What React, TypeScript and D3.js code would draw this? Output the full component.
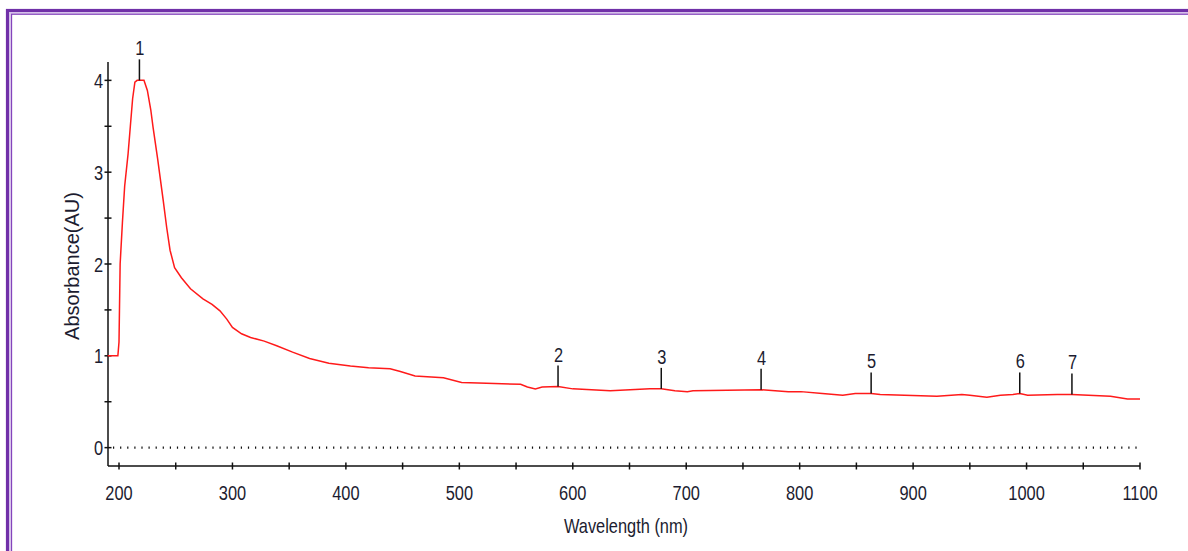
import React from 'react'
import * as d3 from 'd3'

const width = 1188
const height = 551

// spectrum: wavelength (nm) / absorbance (AU)
const wavelengths = [
  190, 199, 200, 201, 203, 205, 208, 210, 212, 214, 216, 222, 225, 228, 230, 234, 239, 242, 245, 249,
  255, 263, 274, 282, 289, 295, 300, 308, 316, 328, 339, 353, 368, 385, 404, 420, 439, 448, 461, 486,
  502, 524, 554, 560, 567, 573, 587, 600, 633, 668, 678, 690, 701, 706, 766, 790, 801, 820, 838, 849,
  863, 871, 921, 943, 950, 965, 977, 988, 994, 1001, 1027, 1040, 1074, 1089, 1100
]
const absorbance = [
  1.0, 1.0, 1.15, 2.0, 2.45, 2.85, 3.2, 3.5, 3.8, 3.98, 4.0, 4.0, 3.89, 3.68, 3.49, 3.15, 2.69, 2.4, 2.15, 1.96,
  1.85, 1.73, 1.62, 1.56, 1.49, 1.4, 1.31, 1.24, 1.2, 1.16, 1.11, 1.04, 0.97, 0.92, 0.89, 0.87, 0.86, 0.83, 0.78, 0.76,
  0.71, 0.7, 0.69, 0.66, 0.64, 0.66, 0.665, 0.64, 0.62, 0.64, 0.64, 0.62, 0.61, 0.62, 0.63, 0.61, 0.61, 0.59, 0.57, 0.59,
  0.59, 0.58, 0.56, 0.58, 0.57, 0.55, 0.57, 0.58, 0.59, 0.57, 0.58, 0.58, 0.56, 0.53, 0.53
]

const peakLabels = ['1', '2', '3', '4', '5', '6', '7']
const peakWl = [218, 587, 678, 766, 863, 994, 1040]
const peakAbs = [4.0, 0.665, 0.64, 0.63, 0.59, 0.59, 0.58]

const xTicks = [200, 300, 400, 500, 600, 700, 800, 900, 1000, 1100]
const xMinor = [250, 350, 450, 550, 650, 750, 850, 950, 1050]
const yTicks = [0, 1, 2, 3, 4]
const yMinor = [0.5, 1.5, 2.5, 3.5]

const font = 'Liberation Sans, Arial, sans-serif'
const textColor = '#1c1c30'
const squeeze = 0.8

function Label({ x, y, anchor = 'middle', children }: any) {
  return (
    <g transform={`translate(${x},${y}) scale(${squeeze},1)`}>
      <text textAnchor={anchor} fontFamily={font} fontSize={20.5} fill={textColor}>{children}</text>
    </g>
  )
}

function App() {
  const xScale = d3.scaleLinear().domain([190.3, 1100]).range([108, 1140])
  const yScale = d3.scaleLinear().domain([-0.2, 4.2]).range([466, 62])

  const points = wavelengths.map((w, i) => [w, absorbance[i]] as [number, number])
  const line = d3.line<[number, number]>()
    .x(d => xScale(d[0]))
    .y(d => yScale(d[1]))

  const x0 = xScale.range()[0]
  const x1 = xScale.range()[1]
  const yBottom = yScale.range()[0]
  const yTop = yScale.range()[1]

  return (
    <svg width={width} height={height} style={{ position: 'absolute', left: 0, top: 0, display: 'block' }}>
      <rect width={width} height={height} fill="#fff" />
      {/* purple frame */}
      <rect x={7.5} y={10.5} width={1300} height={700} fill="none" stroke="#7030a8" strokeWidth={3.2} />
      <rect x={9.8} y={12.8} width={1300} height={700} fill="none" stroke="#d2bce8" strokeWidth={1.4} />
      <rect x={11.5} y={14.2} width={1300} height={700} fill="none" stroke="#8444bc" strokeWidth={1.3} />

      {/* zero line */}
      <line x1={x0 + 5} x2={x1} y1={yScale(0)} y2={yScale(0)} stroke="#111" strokeWidth={2.2} strokeDasharray="1.2 5.9" />

      {/* axes */}
      <line x1={x0} x2={x0} y1={yTop} y2={yBottom} stroke="#111" strokeWidth={1.5} />
      <line x1={x0} x2={x1} y1={yBottom} y2={yBottom} stroke="#111" strokeWidth={1.5} />

      {yTicks.concat(yMinor).map(t => (
        <line key={'yt' + t} x1={x0 - 3.5} x2={x0 + 3.5} y1={yScale(t)} y2={yScale(t)} stroke="#111" strokeWidth={1.5} />
      ))}
      {yTicks.map(t => (
        <Label key={'yl' + t} x={x0 - 5} y={yScale(t) + 7.5} anchor="end">{t}</Label>
      ))}

      {xTicks.concat(xMinor).map(t => (
        <line key={'xt' + t} x1={xScale(t)} x2={xScale(t)} y1={yBottom - 3.5} y2={yBottom + 3.5} stroke="#111" strokeWidth={1.5} />
      ))}
      {xTicks.map(t => (
        <Label key={'xl' + t} x={xScale(t)} y={500}>{t}</Label>
      ))}

      <Label x={626} y={533}>Wavelength (nm)</Label>
      <text
        transform={`translate(79,${(yTop + yBottom) / 2 + 2}) rotate(-90)`}
        textAnchor="middle"
        fontFamily={font}
        fontSize={20}
        fill={textColor}
      >
        Absorbance(AU)
      </text>

      {/* spectrum */}
      <path d={line(points) || ''} fill="none" stroke="#ff1a1a" strokeWidth={1.5} />

      {/* peak markers */}
      {peakLabels.map((p, i) => {
        const px = xScale(peakWl[i])
        const py = yScale(peakAbs[i])
        return (
          <g key={'pk' + p}>
            <line x1={px} x2={px} y1={py} y2={py - 21} stroke="#111" strokeWidth={1.5} />
            <Label x={px + 0.5} y={py - 25}>{p}</Label>
          </g>
        )
      })}
    </svg>
  )
}

export default App
